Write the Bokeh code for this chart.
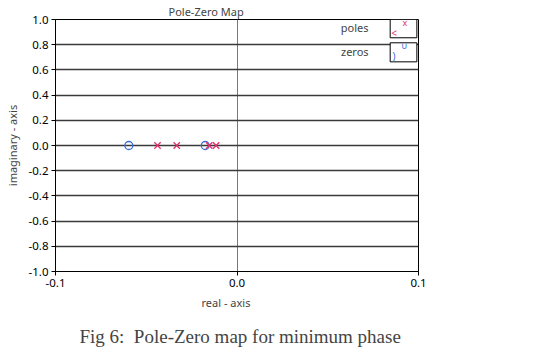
from bokeh.plotting import figure
from bokeh.models import FixedTicker, PrintfTickFormatter, Title, Label, BoxAnnotation
from bokeh.embed import file_html
from bokeh.resources import INLINE

# data
pole_re = [-0.0438, -0.0332, -0.0153, -0.0115]
pole_im = [0.0, 0.0, 0.0, 0.0]
zero_re = [-0.0596, -0.0175]
zero_im = [0.0, 0.0]
x_ticks = [-0.1, 0.0, 0.1]
y_ticks = [-1.0, -0.8, -0.6, -0.4, -0.2, 0.0, 0.2, 0.4, 0.6, 0.8, 1.0]

POLE_C = "#e0306e"
ZERO_C = "#3b6fd8"
SANS = "Noto Sans"

p = figure(frame_width=363, frame_height=252, x_range=(-0.1, 0.1), y_range=(-1.0, 1.0),
           output_backend="svg", toolbar_location=None,
           min_border_left=55, min_border_right=108, min_border_top=15, min_border_bottom=78)
p.background_fill_color = "white"
p.border_fill_color = "white"
p.outline_line_color = "black"
p.outline_line_width = 1

p.title.text = "Pole-Zero Map"
p.title.text_font = SANS
p.title.text_font_size = "11px"
p.title.text_font_style = "normal"
p.title.align = "left"
p.title.offset = 113
p.title.standoff = 2

p.xaxis.ticker = FixedTicker(ticks=x_ticks)
p.yaxis.ticker = FixedTicker(ticks=y_ticks)
p.xaxis.formatter = PrintfTickFormatter(format="%.1f")
p.yaxis.formatter = PrintfTickFormatter(format="%.1f")
for ax in (p.xaxis[0], p.yaxis[0]):
    ax.major_label_text_font = SANS
    ax.major_label_text_font_size = "11.5px"
    ax.major_label_text_color = "black"
    ax.major_tick_out = 4
    ax.major_tick_in = 0
    ax.minor_tick_out = 0
    ax.minor_tick_in = 0
    ax.axis_line_color = "black"
    ax.major_tick_line_color = "black"
    ax.axis_label_text_font = SANS
    ax.axis_label_text_font_size = "11px"
    ax.axis_label_text_font_style = "normal"
    ax.major_label_standoff = 3
p.yaxis.axis_label = "imaginary - axis"
p.yaxis.axis_label_standoff = 6

p.ygrid.grid_line_color = "#3a3a3a"
p.ygrid.grid_line_width = 1.5
p.xgrid.grid_line_color = "#6f7f6f"
p.xgrid.grid_line_width = 1

p.add_layout(Title(text="real - axis", text_font=SANS, text_font_size="11px",
                   text_font_style="normal", align="left", offset=146, standoff=7), "below")
p.add_layout(Title(text="Fig 6:\u00a0\u00a0Pole-Zero map for minimum phase", text_font="Liberation Serif",
                   text_font_size="19px", text_font_style="normal", align="left", offset=24,
                   standoff=21), "below")

p.scatter(zero_re, zero_im, marker="circle", size=8, fill_color=None, line_color=ZERO_C, line_width=1.3)
p.scatter(pole_re, pole_im, marker="x", size=9, line_color=POLE_C, line_width=1.3)

# legend (LabVIEW-style boxes)
p.add_layout(BoxAnnotation(left=0.0844, right=0.0991, top=1.0, bottom=0.855,
                           fill_color="white", fill_alpha=1, line_color="black", line_alpha=1, line_width=1))
p.add_layout(BoxAnnotation(left=0.0844, right=0.0991, top=0.815, bottom=0.664,
                           fill_color="white", fill_alpha=1, line_color="black", line_alpha=1, line_width=1))
p.add_layout(Label(x=0.0725, y=0.937, text="poles", text_align="right", text_baseline="middle",
                   text_font=SANS, text_font_size="11px"))
p.add_layout(Label(x=0.0725, y=0.746, text="zeros", text_align="right", text_baseline="middle",
                   text_font=SANS, text_font_size="11px"))
p.add_layout(Label(x=0.0925, y=0.975, text="x", text_align="center", text_baseline="middle",
                   text_font=SANS, text_font_size="9px", text_color=POLE_C))
p.add_layout(Label(x=0.0865, y=0.895, text="<", text_align="center", text_baseline="middle",
                   text_font=SANS, text_font_size="10px", text_color=POLE_C))
p.add_layout(Label(x=0.0925, y=0.79, text="\u222a", text_align="center", text_baseline="middle",
                   text_font=SANS, text_font_size="9px", text_color=ZERO_C))
p.add_layout(Label(x=0.0865, y=0.71, text=")", text_align="center", text_baseline="middle",
                   text_font=SANS, text_font_size="10px", text_color=ZERO_C))

open("out.html", "w").write(file_html(p, INLINE))
